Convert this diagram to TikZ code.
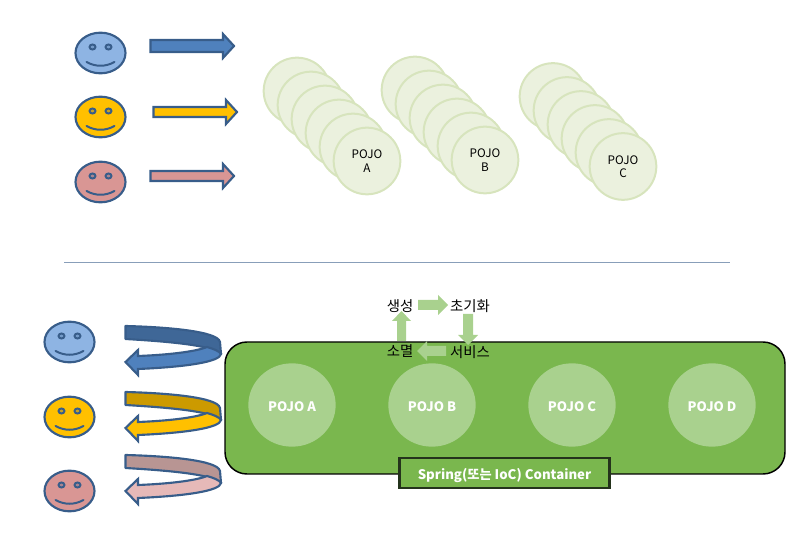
\documentclass[tikz,border=0pt]{standalone}
\usepackage{fontspec}
\setmainfont{Noto Sans CJK KR}
\usetikzlibrary{calc,shapes.geometric}
\definecolor{outl}{HTML}{385D8A}
\definecolor{fblue}{HTML}{8EB4E3}
\definecolor{ablue}{HTML}{4F81BD}
\definecolor{dblue}{HTML}{3F6797}
\definecolor{fyel}{HTML}{FFC000}
\definecolor{dyel}{HTML}{CC9A00}
\definecolor{fpink}{HTML}{D99694}
\definecolor{lpink}{HTML}{E6B9B8}
\definecolor{dpink}{HTML}{B89593}
\definecolor{cont}{HTML}{7AB74E}
\definecolor{inner}{HTML}{A9D18E}
\definecolor{pale}{HTML}{EBF1DE}
\definecolor{paleb}{HTML}{D7E4BD}
\definecolor{lblb}{HTML}{24331C}
\tikzset{
  x=0.75pt,y=-0.75pt,
  facebody/.style={ellipse,draw=outl,line width=1.6pt,minimum width=37.500pt,minimum height=30.500pt,inner sep=0pt},
  featline/.style={draw=outl,line width=1.5pt,line cap=round},
  blockout/.style={draw=outl,line width=1.6pt,line join=miter},
  pojostack/.style={circle,draw=paleb,fill=pale,line width=1.5pt,minimum size=50pt,inner sep=0pt,align=center,font=\fontsize{8.8pt}{11pt}\selectfont,text=black},
  bean/.style={ellipse,fill=inner,minimum width=65.500pt,minimum height=62.500pt,inner sep=0pt,font=\fontsize{9.8pt}{12pt}\selectfont\bfseries,text=white},
  cycle/.style={fill=inner,draw=none},
  cyclabel/.style={font=\fontsize{10.8pt}{12pt}\selectfont,text=black,inner sep=0pt}
}
\newcommand{\lowertext}[2]{\raisebox{-#1}[\height][\depth]{#2}}
\newcommand{\smiley}[3]{%
  \node[facebody,fill=#3] (#1) at (#2) {};
  \draw[featline,fill=#3!70!outl] ($(#1)+(-8,-6)$) ellipse [x radius=3,y radius=2.5];
  \draw[featline,fill=#3!70!outl] ($(#1)+(8,-6)$) ellipse [x radius=3,y radius=2.5];
  \draw[featline] ($(#1)+(-14,9)$) .. controls ($(#1)+(-5,14)$) and ($(#1)+(5,14)$) .. ($(#1)+(14,9)$);
}
\newcommand{\rarrow}[5]{% x0, y, xtip, shaft half, colour
  \draw[blockout,fill=#5] (#1,#2-#4) -- (#3-11,#2-#4) -- (#3-11,#2-12) -- (#3,#2) -- (#3-11,#2+12) -- (#3-11,#2+#4) -- (#1,#2+#4) -- cycle;
}
\newcommand{\wraparrow}[3]{% y offset, back colour, front colour
  \begin{scope}[yshift=-#1*0.75pt]
    \draw[blockout,fill=#2,line join=round] (125.500,326) .. controls (165,327) and (218,331) .. (220,342) -- (221,354)
      .. controls (214,348) and (195,343) .. (125.500,339) -- cycle;
    \draw[blockout,fill=#3] (221,354) .. controls (220,362) and (185,367) .. (138,369) -- (138,375) -- (125.500,362) -- (138,350) -- (138,356)
      .. controls (165,355) and (195,352) .. (207,347) .. controls (214,349) and (219,351) .. (221,354) -- cycle;
  \end{scope}
}
\newcommand{\pojogroup}[4]{% x0, y0, label line, name
  \foreach \i in {0,...,4} {
    \node[pojostack] (#4\i) at ({#1+14*\i},{#2+14*\i}) {};
  }
  \node[pojostack] (#4) at ({#1+70},{#2+70}) {POJO\\[-1pt]#3};
}
\begin{document}
\begin{tikzpicture}
\useasboundingbox (0,0) rectangle (810,555);
% top faces and arrows
\smiley{faceA}{100.500,53}{fblue}
\smiley{faceB}{100.500,117}{fyel}
\smiley{faceC}{100.500,182}{fpink}
\rarrow{150.500}{46}{234}{6}{ablue}
\rarrow{153.500}{112}{237}{5}{fyel}
\rarrow{150.500}{176}{234}{5}{fpink}
% POJO stacks
\pojogroup{297}{91}{A}{pa}
\pojogroup{415}{90}{B}{pb}
\pojogroup{553}{96.500}{C}{pc}
% divider
\coordinate (divl) at (64,263);
\coordinate (divr) at (730,263);
\draw[color=outl!60!white,line width=0.75pt] (divl) -- (divr);
% bottom faces and wrap arrows
\smiley{faceD}{69.500,342}{fblue}
\smiley{faceE}{69.500,417}{fyel}
\smiley{faceF}{69.500,491}{fpink}
\wraparrow{0}{dblue}{ablue}
\wraparrow{66}{dyel}{fyel}
\wraparrow{129}{dpink}{lpink}
% container
\draw[black,fill=cont,line width=1.1pt,rounded corners=16.5pt] (225,342) rectangle (785,474);
\node[bean] (ba) at (292,405) {\lowertext{1.2pt}{POJO A}};
\node[bean] (bb) at (432,405) {\lowertext{1.2pt}{POJO B}};
\node[bean] (bc) at (572,405) {\lowertext{1.2pt}{POJO C}};
\node[bean] (bd) at (712,405) {\lowertext{1.2pt}{POJO D}};
\node[draw=lblb,fill=cont,line width=1.6pt,minimum width=157.5pt,minimum height=22pt,inner sep=0pt,text=white,font=\fontsize{9.9pt}{12pt}\selectfont\bfseries] (lbl) at (504.500,473) {\lowertext{1.6pt}{Spring(또는 IoC) Container}};
% lifecycle
\fill[cycle] (418,300) -- (438,300) -- (438,295) -- (448,305) -- (438,315) -- (438,310) -- (418,310) -- cycle;
\fill[cycle] (463,314) -- (473,314) -- (473,335) -- (478,335) -- (468,345) -- (458,335) -- (463,335) -- cycle;
\fill[cycle] (446,346) -- (427,346) -- (427,341) -- (417,351) -- (427,361) -- (427,356) -- (446,356) -- cycle;
\fill[cycle] (397,341) -- (397,321) -- (392,321) -- (401.500,311) -- (411,321) -- (406,321) -- (406,341) -- cycle;
\node[cyclabel] (s1) at (400,305.700) {생성};
\node[cyclabel] (s2) at (470,305.700) {초기화};
\node[cyclabel] (s3) at (470,351.700) {서비스};
\node[cyclabel] (s4) at (400,351) {소멸};
\end{tikzpicture}
\end{document}
